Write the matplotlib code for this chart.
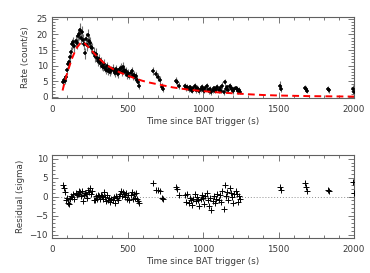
import numpy as np
import matplotlib
matplotlib.use("Agg")
import matplotlib.pyplot as plt
from matplotlib.ticker import MultipleLocator

# ---------------- data ----------------
t_seg1 = [72, 79, 86, 93, 100, 107, 114, 121, 128, 135, 142, 149, 156, 163, 170, 177, 184, 191,
          198, 205, 212, 219, 226, 233, 240, 247, 254, 261, 268, 275, 282, 289, 296, 303, 310,
          317, 324, 331, 338, 345, 352, 359, 366, 373, 380, 387, 394, 401, 408, 415, 422, 429,
          436, 443, 450, 457, 464, 471, 478, 485, 492, 499, 506, 513, 520, 527, 534, 541, 548,
          555, 562, 569, 576]
rate_seg1 = [4.8, 5.5, 5.2, 6.3, 8.5, 10.5, 11.2, 12.8, 14.5, 16.8, 17.5, 16.2, 18.0, 17.1, 19.5,
             20.2, 21.5, 19.0, 20.8, 18.2, 17.0, 14.0, 18.5, 16.5, 19.8, 18.0, 17.2, 16.0, 15.5,
             14.2, 13.0, 13.8, 12.4, 11.5, 12.2, 10.8, 11.4, 10.0, 9.6, 10.5, 9.2, 8.6, 9.8, 8.4,
             8.9, 7.8, 8.5, 9.0, 8.2, 7.6, 8.8, 8.0, 7.4, 8.6, 8.9, 9.3, 8.1, 9.6, 8.7, 7.9, 8.4,
             7.1, 7.7, 6.8, 7.5, 8.2, 6.6, 7.0, 6.2, 6.8, 5.4, 4.6, 3.6]
err_seg1 = [1.0, 1.0, 1.0, 1.1, 1.2, 1.4, 1.4, 1.5, 1.6, 1.8, 1.8, 1.8, 1.9, 1.9, 2.0, 2.0, 2.1,
            2.0, 2.0, 2.0, 1.9, 1.8, 1.9, 1.9, 2.0, 1.9, 1.9, 1.8, 1.8, 1.7, 1.7, 1.7, 1.6, 1.6,
            1.6, 1.5, 1.5, 1.5, 1.4, 1.5, 1.4, 1.4, 1.4, 1.3, 1.4, 1.3, 1.3, 1.4, 1.3, 1.3, 1.4,
            1.3, 1.3, 1.4, 1.4, 1.4, 1.3, 1.4, 1.4, 1.3, 1.3, 1.3, 1.3, 1.2, 1.3, 1.3, 1.2, 1.2,
            1.2, 1.2, 1.1, 1.0, 1.0]
res_seg1 = [3.2, 2.4, 1.2, -1.0, -0.4, -1.8, -2.0, -0.6, 0.3, -0.2, 0.6, -0.5, 1.0, 0.4, 0.8,
            1.5, 1.2, 0.2, 1.6, -1.2, 0.5, 1.0, 0.7, -0.4, 1.8, 1.2, 2.2, 0.6, 1.4, -0.8, -1.0,
            0.3, -0.5, 0.4, 0.2, -0.6, 0.5, 0.2, -0.7, 1.3, -0.2, -1.2, 0.4, -0.9, -0.3, -1.5,
            -0.6, -0.8, -0.2, -1.6, 0.3, -0.4, -1.0, 0.2, 0.8, 1.4, 0.1, 1.2, 0.6, -0.2, 0.9,
            -0.6, 0.5, -0.8, 0.4, 1.1, -0.5, 0.7, -0.4, 0.9, -0.6, -1.2, -1.8]

t_seg2 = [672, 686, 700, 714, 728, 738]
rate_seg2 = [8.4, 7.2, 6.4, 5.4, 3.2, 2.4]
err_seg2 = [1.3, 1.3, 1.2, 1.2, 1.1, 1.0]
res_seg2 = [3.5, 1.7, 1.8, 1.4, -0.3, -0.6]

t_seg3 = [822, 830, 838]
rate_seg3 = [5.2, 4.6, 3.6]
err_seg3 = [1.1, 1.1, 1.0]
res_seg3 = [2.6, 1.9, 0.4]

t_seg4 = [880, 888, 896, 904, 912, 920, 928, 936, 944, 952, 960, 968, 976, 984, 992, 1000, 1008,
          1016, 1024, 1032, 1040, 1048, 1056, 1064, 1072, 1080, 1088, 1096, 1104, 1112, 1120,
          1128, 1136, 1144, 1152, 1160, 1168, 1176, 1184, 1192, 1200, 1208, 1216, 1224, 1232,
          1240, 1248]
rate_seg4 = [3.5, 2.8, 3.2, 2.4, 3.0, 2.6, 1.9, 2.7, 3.3, 2.2, 2.9, 2.5, 1.8, 2.4, 3.1, 2.6, 2.0,
             2.8, 3.4, 2.3, 1.7, 2.5, 1.5, 2.1, 2.7, 1.9, 2.4, 3.2, 2.2, 2.9, 2.0, 3.6, 1.4, 4.6,
             2.5, 3.0, 2.1, 3.3, 2.8, 2.4, 1.8, 2.6, 2.7, 2.5, 1.7, 2.3, 1.6]
err_seg4 = [1.0, 0.9, 1.0, 0.9, 0.9, 0.9, 0.8, 0.9, 1.0, 0.9, 0.9, 0.9, 0.8, 0.9, 1.0, 0.9, 0.8,
            0.9, 1.0, 0.9, 0.8, 0.9, 0.8, 0.9, 0.9, 0.8, 0.9, 1.0, 0.9, 0.9, 0.8, 1.0, 0.8, 1.1,
            0.9, 0.9, 0.8, 1.0, 0.9, 0.9, 0.8, 0.9, 0.9, 0.9, 0.8, 0.9, 0.8]
res_seg4 = [0.5, -1.5, 0.8, -1.8, -0.3, -0.9, -2.2, -0.6, 0.6, -1.2, -0.2, -0.8, -2.4, -0.5, 0.4,
            -0.4, -1.9, 0.2, 0.9, -1.0, -2.6, -0.3, -3.4, -1.1, 0.3, -1.7, -0.6, 0.8, -0.9, 0.5,
            -1.5, 1.6, -3.2, 3.0, 0.3, 1.2, -0.8, 2.2, 1.0, -0.2, -1.6, 0.8, 1.4, 0.6, -1.3, 0.2,
            -0.7]

t_seg5 = [1508, 1514, 1674, 1680, 1686, 1826, 1832, 1994, 2000]
rate_seg5 = [3.6, 2.6, 2.9, 2.4, 2.0, 2.5, 2.1, 2.6, 1.6]
err_seg5 = [1.3, 1.2, 0.9, 0.9, 0.8, 0.9, 0.8, 1.1, 0.9]
res_seg5 = [2.5, 1.8, 3.5, 2.5, 1.5, 1.8, 1.5, 3.8, 1.0]

model_t = [70, 80, 100, 130, 160, 190, 210, 250, 300, 350, 400, 450, 500, 550, 600, 650, 700,
           800, 900, 1000, 1100, 1200, 1300, 1400, 1500, 1600, 1700, 1800, 1900, 2000]
model_rate = [2.0, 4.0, 7.5, 12.0, 15.5, 17.3, 17.5, 15.5, 12.8, 10.6, 9.0, 7.8, 6.8, 5.9, 5.1,
              4.5, 4.0, 3.0, 2.3, 1.8, 1.4, 1.1, 0.8, 0.55, 0.4, 0.3, 0.2, 0.15, 0.1, 0.05]

xlim = (0, 2000)
top_ylim = (-0.5, 25.7)
bot_ylim = (-11, 11)
x_ticks = [0, 500, 1000, 1500, 2000]
top_yticks = [0, 5, 10, 15, 20, 25]
bot_yticks = [-10, -5, 0, 5, 10]

# ---------------- assemble ----------------
t_all = np.array(t_seg1 + t_seg2 + t_seg3 + t_seg4 + t_seg5, dtype=float)
rate_all = np.array(rate_seg1 + rate_seg2 + rate_seg3 + rate_seg4 + rate_seg5)
err_all = np.array(err_seg1 + err_seg2 + err_seg3 + err_seg4 + err_seg5)
res_all = np.array(res_seg1 + res_seg2 + res_seg3 + res_seg4 + res_seg5)

plt.rcParams['font.family'] = ['DejaVu Sans']
txt_col = '#3a3a3a'
frame_col = '#606060'
fs = 6.3

fig = plt.figure(figsize=(3.70, 2.73), dpi=100)
ax1 = fig.add_axes([52 / 370, 1 - 98.3 / 273, 302 / 370, 81.6 / 273])
ax2 = fig.add_axes([52 / 370, 1 - 238.3 / 273, 302 / 370, 83.3 / 273])


def style(ax):
    for s in ax.spines.values():
        s.set_color(frame_col)
        s.set_linewidth(0.8)
    ax.tick_params(which='both', direction='in', top=True, right=True,
                   colors=frame_col, labelcolor=txt_col, labelsize=fs, width=0.6)
    ax.tick_params(which='major', length=4)
    ax.tick_params(which='minor', length=2)
    ax.tick_params(axis='x', pad=5)
    ax.tick_params(axis='y', pad=3)
    ax.set_xlim(*xlim)
    ax.set_xticks(x_ticks)
    ax.xaxis.set_minor_locator(MultipleLocator(100))
    ax.yaxis.set_minor_locator(MultipleLocator(1))
    ax.set_xlabel('Time since BAT trigger (s)', fontsize=fs, color=txt_col, labelpad=2)


# top panel
ax1.errorbar(t_all, rate_all, yerr=err_all, fmt='none', ecolor='#6e6e6e', elinewidth=0.8,
             capsize=0, zorder=2)
ax1.plot(t_all, rate_all, '+', color='black', ms=3.5, mew=1.1, zorder=3)
ax1.plot(model_t, model_rate, color='red', lw=1.4, ls=(0, (3.5, 2.2)), zorder=4)
style(ax1)
ax1.set_ylim(*top_ylim)
ax1.set_yticks(top_yticks)
ax1.set_ylabel('Rate (count/s)', fontsize=fs, color=txt_col, labelpad=5)

# bottom panel
ax2.plot(xlim, [0, 0], ls=(0, (1, 2)), color='#909090', lw=0.7, zorder=1)
ax2.plot(t_all, res_all, '+', color='black', ms=4, mew=0.7, zorder=3)
style(ax2)
ax2.set_ylim(*bot_ylim)
ax2.set_yticks(bot_yticks)
ax2.set_ylabel('Residual (sigma)', fontsize=fs, color=txt_col, labelpad=3)

fig.savefig('out.png', dpi=100)
